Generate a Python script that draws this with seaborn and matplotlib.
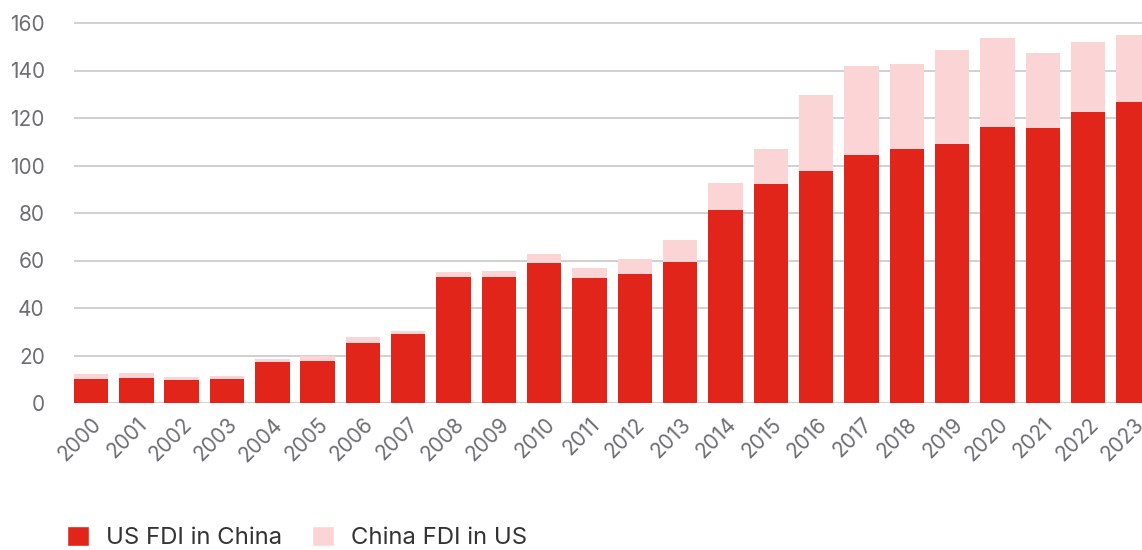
import pandas as pd
import matplotlib
matplotlib.use("Agg")
import matplotlib.pyplot as plt
import seaborn as sns
from matplotlib.patches import Patch

# valeurs (milliards USD)
years = [str(y) for y in range(2000, 2024)]
us_fdi_china = [10.1, 10.5, 9.7, 10.1, 17.3, 17.7, 25.3, 29.1, 53.0, 53.0, 58.9, 52.6,
                54.3, 59.4, 81.3, 92.2, 97.7, 104.4, 106.9, 109.1, 116.2, 115.8, 122.5, 126.7]
china_fdi_us = [2.1, 2.1, 1.2, 1.3, 1.2, 2.2, 2.5, 1.2, 2.2, 2.6, 3.8, 4.2,
                6.3, 9.2, 11.3, 14.7, 31.8, 37.5, 35.8, 39.5, 37.5, 31.6, 29.5, 28.2]

df = pd.DataFrame({"year": years, "us": us_fdi_china, "china": china_fdi_us})
df["total"] = df["us"] + df["china"]

red = "#E1251B"
pink = "#FBD5D5"

sns.set_theme(style="white")
plt.rcParams["font.family"] = ["Inter", "DejaVu Sans"]

fig = plt.figure(figsize=(11.42, 5.5), dpi=100)
ax = fig.add_axes([74 / 1142, 147 / 550, (1142 - 74) / 1142, (403 - 18.25) / 550])

sns.barplot(data=df, x="year", y="total", color=pink, saturation=1, width=0.76, ax=ax,
            zorder=2, linewidth=0)
sns.barplot(data=df, x="year", y="us", color=red, saturation=1, width=0.76, ax=ax,
            zorder=3, linewidth=0)

ax.set_xlim(-0.375, 23.19)
ax.set_ylim(0, 162)
ax.set_yticks(range(0, 161, 20))
ax.yaxis.grid(True, color="#c8c8c8", linewidth=1.2, zorder=1)
ax.set_axisbelow(True)
for s in ax.spines.values():
    s.set_visible(False)
ax.set_xlabel("")
ax.set_ylabel("")
ax.tick_params(axis="y", length=0, pad=21, labelsize=15, labelcolor="#6e6e73")
ax.tick_params(axis="x", length=0, pad=8, labelsize=15, labelcolor="#6e6e73")
for lab in ax.get_xticklabels():
    lab.set_rotation(45)
    lab.set_ha("right")
    lab.set_rotation_mode("anchor")

handles = [Patch(facecolor=red, label="US FDI in China"),
           Patch(facecolor=pink, label="China FDI in US")]
fig.legend(handles=handles, loc="lower left", bbox_to_anchor=(66 / 1142, 0.0),
           ncol=2, frameon=False, fontsize=17.2, handlelength=0.92, handleheight=0.92,
           handletextpad=0.71, columnspacing=1.25, borderpad=0.05, borderaxespad=0,
           labelcolor="#333333")

fig.savefig("out.png", dpi=100)
